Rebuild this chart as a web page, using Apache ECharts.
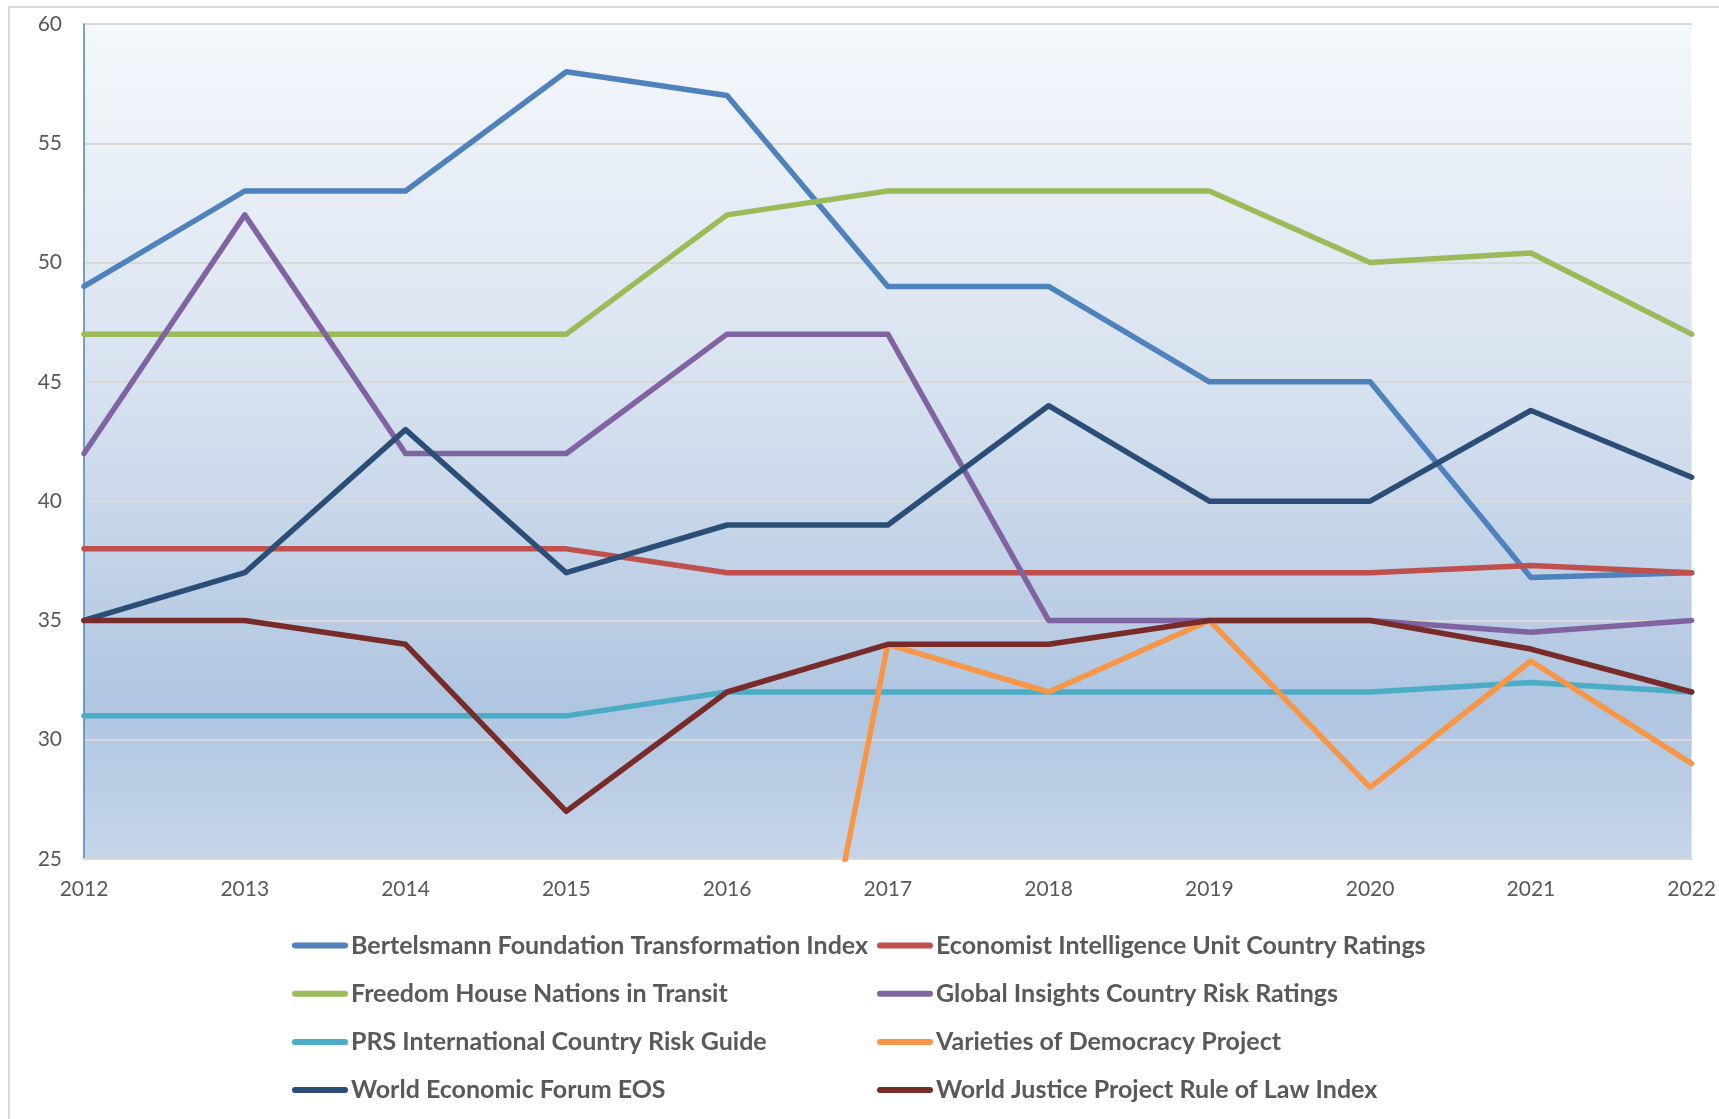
<!DOCTYPE html>
<html>
<head>
<meta charset="utf-8">
<script src="https://cdn.jsdelivr.net/npm/echarts@6/dist/echarts.min.js"></script>
<style>
html,body{margin:0;padding:0;background:#fff;}
#chart{width:1719px;height:1119px;}
</style>
</head>
<body>
<div id="chart"></div>
<script>
const years = ['2012','2013','2014','2015','2016','2017','2018','2019','2020','2021','2022'];
const yTicks = {min: 25, max: 60, interval: 5};

const bertelsmann = [49, 53, 53, 58, 57, 49, 49, 45, 45, 36.8, 37];
const economist   = [38, 38, 38, 38, 37, 37, 37, 37, 37, 37.3, 37];
const freedom     = [47, 47, 47, 47, 52, 53, 53, 53, 50, 50.4, 47];
const globalIns   = [42, 52, 42, 42, 47, 47, 35, 35, 35, 34.5, 35];
const prs         = [31, 31, 31, 31, 32, 32, 32, 32, 32, 32.4, 32];
const vdem        = [0, 0, 0, 0, 0, 34, 32, 35, 28, 33.3, 29];
const wef         = [35, 37, 43, 37, 39, 39, 44, 40, 40, 43.8, 41];
const wjp         = [35, 35, 34, 27, 32, 34, 34, 35, 35, 33.8, 32];

const seriesDefs = [
  {name: 'Bertelsmann Foundation Transformation Index', data: bertelsmann, color: '#4F81BD'},
  {name: 'Economist Intelligence Unit Country Ratings', data: economist, color: '#C0504D'},
  {name: 'Freedom House Nations in Transit', data: freedom, color: '#9BBB59'},
  {name: 'Global Insights Country Risk Ratings', data: globalIns, color: '#8064A2'},
  {name: 'PRS International Country Risk Guide', data: prs, color: '#4BACC6'},
  {name: 'Varieties of Democracy Project', data: vdem, color: '#F79646'},
  {name: 'World Economic Forum EOS', data: wef, color: '#2C4D75'},
  {name: 'World Justice Project Rule of Law Index', data: wjp, color: '#772C2A'}
];

const chart = echarts.init(document.getElementById('chart'), null, {renderer: 'canvas'});
const font = 'Lato';
const capsule = 'path://M3,0 L53,0 A3,3 0 0 1 53,6 L3,6 A3,3 0 0 1 3,0 Z';

const legendCommon = {
  orient: 'vertical',
  icon: capsule,
  itemWidth: 56,
  itemHeight: 6,
  itemGap: 23.2,
  padding: 0,
  textStyle: {fontFamily: font, fontWeight: 'bold', fontSize: 25, color: '#595959', lineHeight: 24, padding: [0,0,0,-2]}
};

const option = {
  backgroundColor: '#ffffff',
  animation: false,
  graphic: [{
    type: 'rect',
    shape: {x: 9, y: 7, width: 1800, height: 1200},
    style: {fill: 'none', stroke: '#d9d9d9', lineWidth: 2},
    silent: true,
    z: -10
  }],
  grid: {
    left: 84, right: 26, top: 24, bottom: 260,
    show: true, borderWidth: 0,
    backgroundColor: new echarts.graphic.LinearGradient(0, 0, 0, 1, [
      {offset: 0, color: '#f5f8fc'},
      {offset: 0.45, color: '#d6e1ef'},
      {offset: 0.82, color: '#afc5e0'},
      {offset: 1, color: '#c6d6ea'}
    ])
  },
  legend: [
    Object.assign({}, legendCommon, {
      left: 292, top: 933,
      data: [seriesDefs[0].name, seriesDefs[2].name, seriesDefs[4].name, seriesDefs[6].name]
    }),
    Object.assign({}, legendCommon, {
      left: 877, top: 933,
      data: [seriesDefs[1].name, seriesDefs[3].name, seriesDefs[5].name, seriesDefs[7].name]
    })
  ],
  xAxis: {
    type: 'category',
    data: years,
    boundaryGap: false,
    axisLine: {show: true, lineStyle: {color: '#d9d9d9', width: 2}},
    axisTick: {show: false},
    axisLabel: {fontFamily: font, fontSize: 21, color: '#595959', margin: 20},
    splitLine: {show: false}
  },
  yAxis: {
    type: 'value',
    min: yTicks.min, max: yTicks.max, interval: yTicks.interval,
    axisLine: {show: true, lineStyle: {color: '#4F81BD', width: 1.5}},
    axisTick: {show: false},
    axisLabel: {fontFamily: font, fontSize: 21, color: '#595959', margin: 22},
    splitLine: {show: true, lineStyle: {color: '#d9d9d9', width: 2}}
  },
  series: seriesDefs.map(s => ({
    name: s.name,
    type: 'line',
    data: s.data,
    color: s.color,
    symbol: 'none',
    smooth: false,
    clip: true,
    lineStyle: {width: 5.5, color: s.color, cap: 'round', join: 'round'},
    itemStyle: {color: s.color}
  }))
};
chart.setOption(option);
</script>
</body>
</html>
